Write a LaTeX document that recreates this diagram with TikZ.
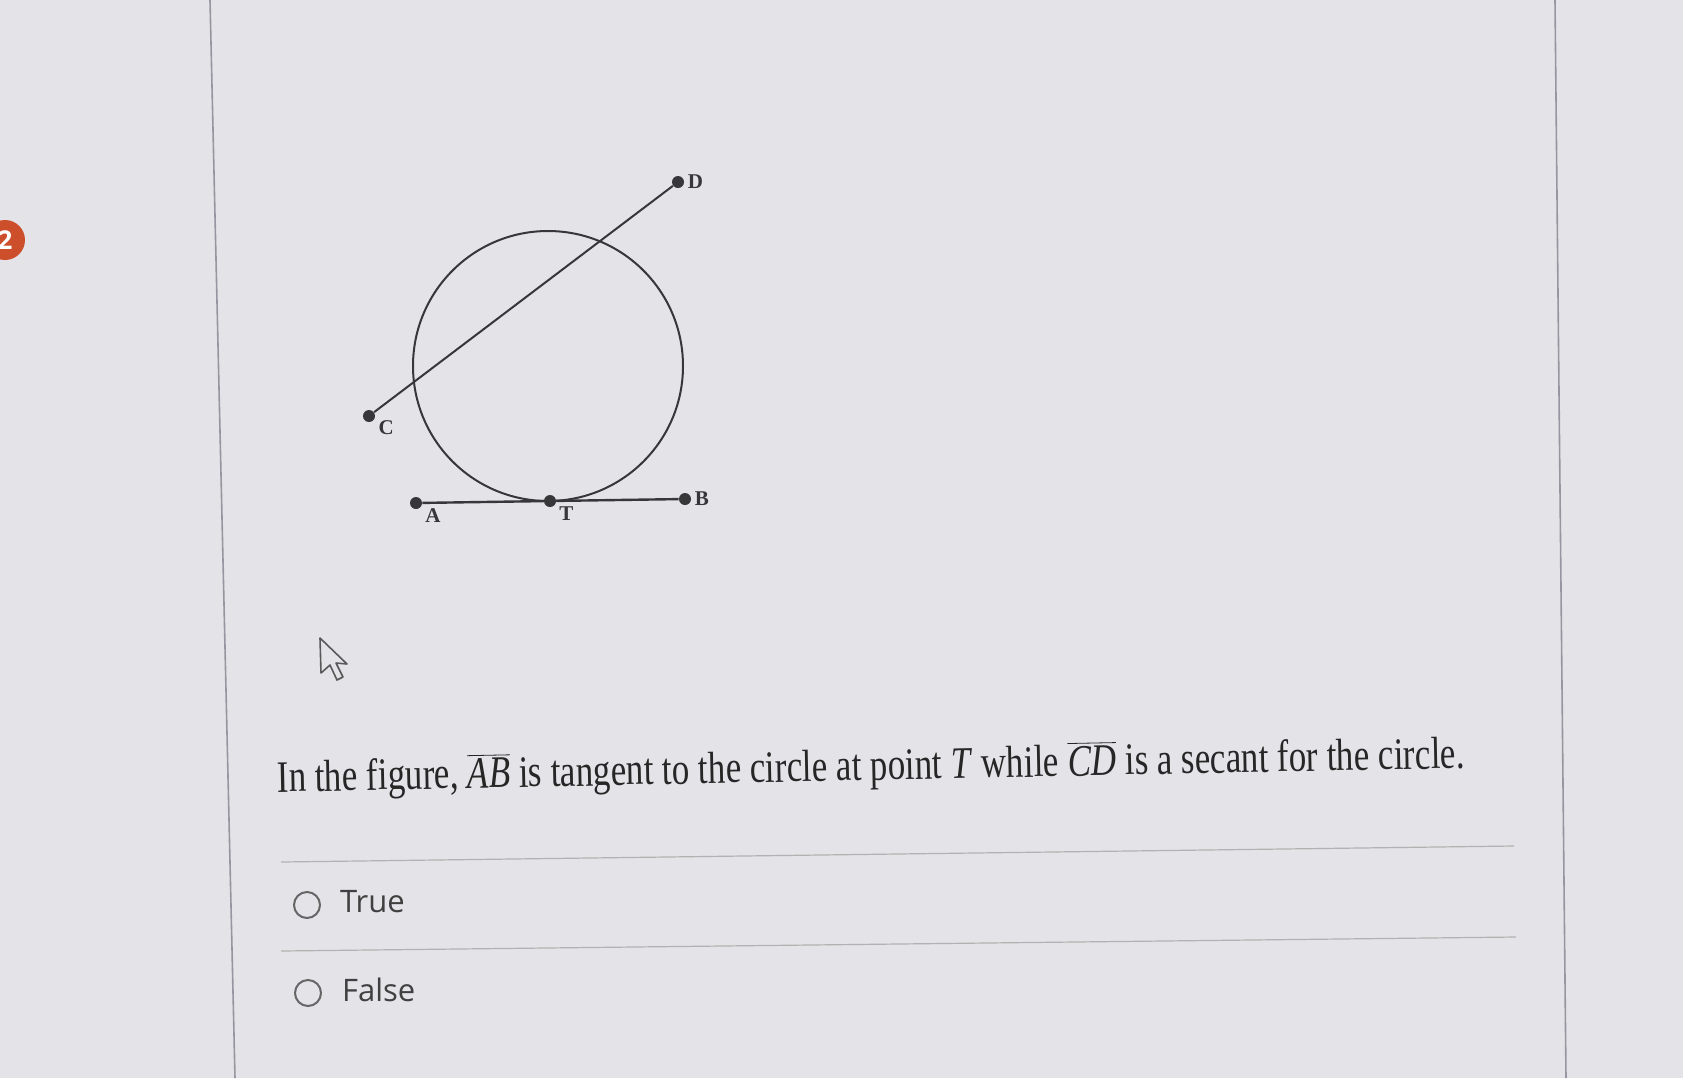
\documentclass[tikz,border=0pt]{standalone}
\usepackage{fontspec}
\usepackage{xcolor}
\usepackage{tikz}
\newfontfamily\qfont{Liberation Serif}
\newfontfamily\uifont{Open Sans}
\definecolor{paper}{RGB}{228,227,232}
\definecolor{rule}{RGB}{150,150,160}
\definecolor{ink}{RGB}{55,55,58}
\definecolor{badge}{RGB}{205,78,42}
\tikzset{
  pt/.style={circle,fill=ink,inner sep=0pt,minimum size=6pt},
  ptlabel/.style={font=\qfont\bfseries\fontsize{10.5}{12}\selectfont,text=ink,inner sep=1.5pt},
  radio/.style={circle,draw=black!60,line width=1pt,minimum size=13pt,inner sep=0pt},
  option/.style={font=\uifont\fontsize{15.5}{18}\selectfont,text=black!75,anchor=west}
}
\begin{document}
\begin{tikzpicture}[x=0.5pt,y=-0.5pt]
\useasboundingbox[fill=paper] (0,0) rectangle (1683,1078);
\draw[rule,line width=0.8pt] (210,0) -- (235,1078);
\draw[rule,line width=0.8pt] (1555,0) -- (1566,1078);
% badge at the left edge
\node[circle,fill=badge,minimum size=20pt,inner sep=0pt] (badge) at (5,240) {};
\node[text=white,font=\uifont\bfseries\fontsize{13}{15}\selectfont] (num) at (5,240) {2};

% the figure
\coordinate (O) at (548,366);
\draw[ink,line width=1pt] (O) circle[radius=67.5pt];
\node[pt,label={[ptlabel]-20:A}] (A) at (416,503) {};
\node[pt,label={[ptlabel]-20:T}] (T) at (550,501) {};
\node[pt,label={[ptlabel]0:B}] (B) at (685,499) {};
\node[pt,label={[ptlabel]-10:C}] (C) at (369,416) {};
\node[pt,label={[ptlabel]0:D}] (D) at (678,182) {};
\draw[ink,line width=1.2pt] (A) -- (T) -- (B);
\draw[ink,line width=1pt] (C) -- (D);

% mouse pointer
\draw[black!65,line width=0.8pt,fill=paper,line join=round]
  (320,638) -- (321,673) -- (330,665) -- (337,680) -- (343,677) -- (336,663) -- (347,664) -- cycle;

% question text
\node[anchor=base west,rotate=1.15,inner sep=0pt,text=black!85] (question) at (277,792)
  {\resizebox{594pt}{\height}{\qfont\fontsize{22.5}{27}\selectfont In the figure, $\overline{\mbox{\itshape AB}}$ is tangent to the circle at point \textit{T} while $\overline{\mbox{\itshape CD}}$ is a secant for the circle.}};

\draw[black!30,line width=0.6pt] (281,862) -- (1514,846);
\draw[black!30,line width=0.6pt] (281,951) -- (1516,937);

\node[radio] (r1) at (307,905) {};
\node[option] (true) at (333,902) {True};
\node[radio] (r2) at (308,993) {};
\node[option] (false) at (335,990) {False};
\end{tikzpicture}
\end{document}
